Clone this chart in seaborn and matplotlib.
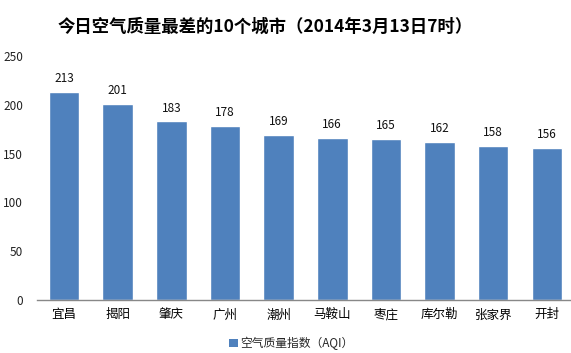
import matplotlib
matplotlib.use("Agg")
import matplotlib.pyplot as plt
import seaborn as sns
import pandas as pd
from matplotlib.patches import Patch

cities = ["宜昌", "揭阳", "肇庆", "广州", "潮州", "马鞍山", "枣庄", "库尔勒", "张家界", "开封"]
aqi = [213, 201, 183, 178, 169, 166, 165, 162, 158, 156]
yticks = [0, 50, 100, 150, 200, 250]
title = "今日空气质量最差的10个城市（2014年3月13日7时）"
legend_label = "空气质量指数（AQI）"

sns.set_theme(style="white")
plt.rcParams['font.family'] = ['Noto Sans CJK SC', 'DejaVu Sans']

df = pd.DataFrame({"city": cities, "aqi": aqi})
color = "#4F81BD"

fig = plt.figure(figsize=(5.71, 3.53), dpi=100)
ax = fig.add_axes([0.065, 0.150, 0.935, 0.691])
sns.barplot(data=df, x="city", y="aqi", color=color, width=0.57, ax=ax, saturation=1)

ax.set_ylim(0, 250)
ax.set_xlim(-0.5, 9.45)
ax.set_yticks(yticks)
ax.set_yticklabels([str(v) for v in yticks], fontsize=8.5, color="#222222")
ax.tick_params(axis="x", labelsize=9, colors="#000000", length=0, pad=6)
ax.tick_params(axis="y", length=0, pad=10)
ax.set_xlabel("")
ax.set_ylabel("")
for s in ["top", "right", "left"]:
    ax.spines[s].set_visible(False)
ax.spines["bottom"].set_color("#888888")
ax.spines["bottom"].set_linewidth(1.0)

for c in ax.containers:
    ax.bar_label(c, labels=[str(v) for v in aqi], padding=5, fontsize=8.5, color="#111111")

fig.text(0.465, 0.925, title, ha="center", va="center", fontsize=12.5, fontweight="bold", color="#000000")

fig.legend(handles=[Patch(facecolor=color, edgecolor="none")], labels=[legend_label],
           loc="center", bbox_to_anchor=(0.51, 0.028), frameon=False, fontsize=8.5,
           handlelength=0.7, handleheight=0.7, handletextpad=0.2, borderaxespad=0)

fig.savefig("out.png", dpi=100)
